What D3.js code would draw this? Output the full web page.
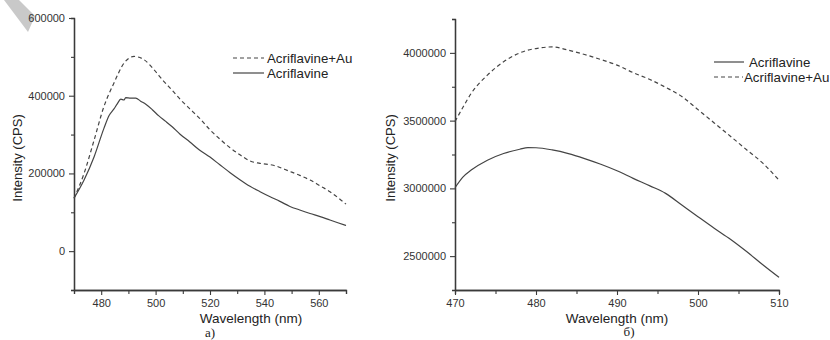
<!DOCTYPE html>
<html>
<head>
<meta charset="utf-8">
<script src="https://cdn.jsdelivr.net/npm/d3@7"></script>
<style>
  body { margin: 0; background: #fff; }
  svg { display: block; }
  .tick text { font-family: "Liberation Sans", Arial, sans-serif; font-size: 11px; fill: #333; }
  .lbl { font-family: "Liberation Sans", Arial, sans-serif; fill: #222; }
</style>
</head>
<body>
<svg id="chart" width="830" height="340"></svg>
<script>
// panel a) wavelengths / intensities
const aSolidWl = [470, 473.7, 477.4, 481, 482.9, 484.7, 485.9, 487.2, 488.4, 489, 490.8, 492.7, 494.5, 496.4, 498.8, 501.2, 503.7, 506.1, 509, 512.6, 516, 520, 523.5, 527.4, 531, 534.7, 538.4, 542.1, 545.7, 549.4, 553, 556.8, 560.5, 564.1, 567, 570];
const aSolidVal = [136000, 183000, 243000, 316000, 349000, 366000, 379000, 391000, 389000, 395000, 394000, 394000, 386000, 378000, 364000, 348000, 334000, 320000, 301000, 281000, 261000, 242000, 223000, 202000, 184000, 167000, 153000, 140000, 128000, 115000, 106000, 97000, 89000, 80000, 73000, 66000];
const aDashWl = [470, 473.7, 477.4, 481, 484.7, 488.4, 490.3, 492.1, 495.7, 499.4, 503, 506.1, 509, 512.6, 516.3, 520, 523.7, 527.4, 531, 534.7, 538.4, 543.3, 549.4, 553, 556.8, 560.5, 564.1, 567, 570];
const aDashVal = [136000, 200000, 286000, 372000, 433000, 484000, 497000, 501000, 493000, 467000, 437000, 414000, 391000, 366000, 341000, 312000, 288000, 266000, 248000, 232000, 226000, 221000, 205000, 195000, 183000, 168000, 153000, 138000, 121000];

// panel б)
const bWl = [470, 471, 472, 474, 476, 478, 479, 480, 482, 484, 486, 488, 490, 492, 494, 496, 498, 500, 502, 504, 506, 508, 510];
const bSolidVal = [3005000, 3085000, 3135000, 3208000, 3257000, 3289000, 3301000, 3300000, 3284000, 3257000, 3220000, 3178000, 3130000, 3074000, 3020000, 2963000, 2877000, 2791000, 2706000, 2625000, 2534000, 2436000, 2343000];
const bDashVal = [3493000, 3600000, 3701000, 3836000, 3934000, 4000000, 4020000, 4032000, 4044000, 4020000, 3988000, 3951000, 3910000, 3854000, 3805000, 3746000, 3678000, 3581000, 3483000, 3385000, 3285000, 3186000, 3061000];

const aXTicks = [480, 500, 520, 540, 560];
const aYTicks = [0, 200000, 400000, 600000];
const bXTicks = [470, 480, 490, 500, 510];
const bYTicks = [2500000, 3000000, 3500000, 4000000];

const svg = d3.select("#chart");
const ink = "#3a3a3a";

// scanned page corner
svg.append("polygon")
  .attr("points", "4,0 19,0 35,16 28,32")
  .attr("fill", "#c9c9c9");

function panel(o) {
  const x = d3.scaleLinear().domain(o.xDom).range(o.xRange);
  const y = d3.scaleLinear().domain(o.yDom).range(o.yRange);
  const g = svg.append("g");

  // minor ticks
  g.append("g").attr("transform", "translate(0," + o.yRange[0] + ")")
    .call(d3.axisBottom(x).tickValues(o.xMinor).tickSize(4).tickFormat(""));
  g.append("g").attr("transform", "translate(" + o.xRange[0] + ",0)")
    .call(d3.axisLeft(y).tickValues(o.yMinor).tickSize(3).tickFormat(""));

  g.append("g").attr("transform", "translate(0," + o.yRange[0] + ")")
    .call(d3.axisBottom(x).tickValues(o.xTicks).tickSize(5).tickSizeOuter(0).tickPadding(4).tickFormat(d3.format("d")));
  g.append("g").attr("transform", "translate(" + o.xRange[0] + ",0)")
    .call(d3.axisLeft(y).tickValues(o.yTicks).tickSize(5).tickSizeOuter(0).tickPadding(4).tickFormat(d3.format("d")));
  g.selectAll(".domain").attr("stroke", ink).attr("stroke-width", 1.3);
  g.selectAll(".tick line").attr("stroke", ink).attr("stroke-width", 1.1);

  const line = d3.line().x(d => x(d[0])).y(d => y(d[1])).curve(d3.curveMonotoneX);
  o.series.forEach(s => {
    g.append("path")
      .datum(d3.zip(s.wl, s.val))
      .attr("fill", "none")
      .attr("stroke", "#444")
      .attr("stroke-width", 1.2)
      .attr("stroke-dasharray", s.dash ? "4,3" : null)
      .attr("d", line);
  });

  // legend
  o.legend.forEach(l => {
    g.append("line")
      .attr("x1", l.x1).attr("x2", l.x2).attr("y1", l.y).attr("y2", l.y)
      .attr("stroke", "#444").attr("stroke-width", 1.2)
      .attr("stroke-dasharray", l.dash ? "4,3" : null);
    g.append("text").attr("class", "lbl")
      .attr("x", l.tx).attr("y", l.y + 4.5)
      .attr("font-size", "13.3px")
      .text(l.name);
  });

  g.append("text").attr("class", "lbl")
    .attr("x", o.titleX).attr("y", 322.5)
    .attr("text-anchor", "middle").attr("font-size", "13.5px")
    .text("Wavelength (nm)");
  g.append("text").attr("class", "lbl")
    .attr("transform", "translate(" + o.yTitleX + ",158) rotate(-90)")
    .attr("text-anchor", "middle").attr("font-size", "13px")
    .text("Intensity (CPS)");
  g.append("text")
    .attr("x", o.tagX).attr("y", o.tagY)
    .attr("text-anchor", "middle")
    .attr("font-family", "'Liberation Serif', 'Times New Roman', serif")
    .attr("font-size", "13px").attr("fill", "#222")
    .text(o.tag);
}

panel({
  xDom: [470, 570], xRange: [74, 346],
  yDom: [-100000, 600000], yRange: [290, 18],
  xTicks: aXTicks, yTicks: aYTicks,
  xMinor: d3.range(470, 571, 10).filter(v => !aXTicks.includes(v)),
  yMinor: [-100000, 100000, 300000, 500000],
  series: [
    { wl: aDashWl, val: aDashVal, dash: true },
    { wl: aSolidWl, val: aSolidVal, dash: false }
  ],
  legend: [
    { name: "Acriflavine+Au", dash: true, x1: 233, x2: 264, tx: 267, y: 58 },
    { name: "Acriflavine", dash: false, x1: 233, x2: 264, tx: 267, y: 73 }
  ],
  titleX: 251, yTitleX: 22, tag: "a)", tagX: 210, tagY: 337
});

panel({
  xDom: [470, 510], xRange: [455, 779],
  yDom: [2250000, 4250000], yRange: [290, 19],
  xTicks: bXTicks, yTicks: bYTicks,
  xMinor: [475, 485, 495, 505],
  yMinor: [2750000, 3250000, 3750000, 4250000],
  series: [
    { wl: bWl, val: bDashVal, dash: true },
    { wl: bWl, val: bSolidVal, dash: false }
  ],
  legend: [
    { name: "Acriflavine", dash: false, x1: 714, x2: 744, tx: 749, y: 62 },
    { name: "Acriflavine+Au", dash: true, x1: 714, x2: 743, tx: 744, y: 77 }
  ],
  titleX: 617, yTitleX: 395, tag: "б)", tagX: 629, tagY: 336
});
</script>
</body>
</html>
